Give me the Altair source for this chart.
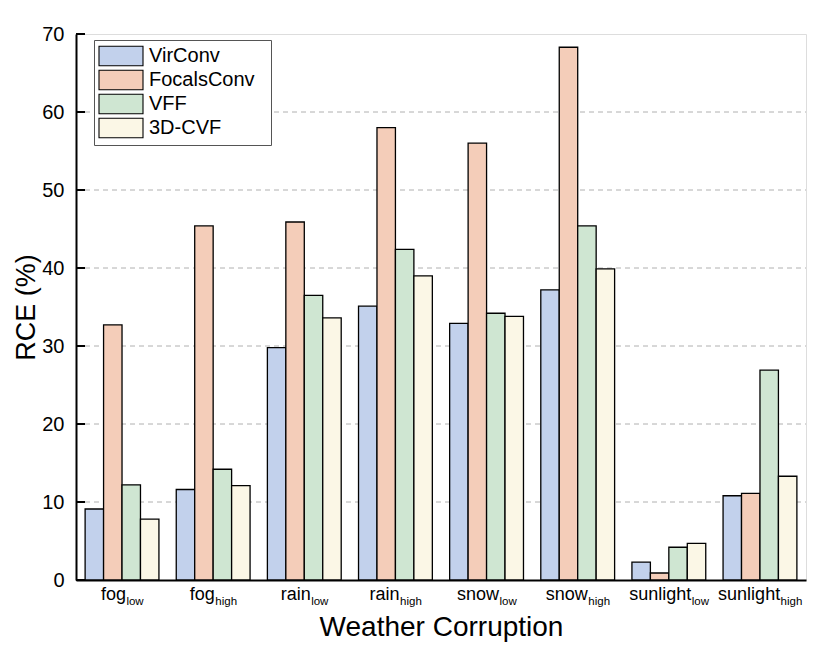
import altair as alt
import pandas as pd

FONT = "Liberation Sans"

categories = ["fog_low", "fog_high", "rain_low", "rain_high",
              "snow_low", "snow_high", "sunlight_low", "sunlight_high"]
label_main = ["fog", "fog", "rain", "rain", "snow", "snow", "sunlight", "sunlight"]
label_sub = ["low", "high", "low", "high", "low", "high", "low", "high"]

series = ["VirConv", "FocalsConv", "VFF", "3D-CVF"]
colors = ["#c2d1ec", "#f4cdb9", "#cfe6d2", "#fbf7e6"]

virconv = [9.1, 11.6, 29.8, 35.1, 32.9, 37.2, 2.3, 10.8]
focalsconv = [32.7, 45.4, 45.9, 58.0, 56.0, 68.3, 0.9, 11.1]
vff = [12.2, 14.2, 36.5, 42.4, 34.2, 45.4, 4.2, 26.9]
cvf3d = [7.8, 12.1, 33.6, 39.0, 33.8, 39.9, 4.7, 13.3]

y_ticks = [0, 10, 20, 30, 40, 50, 60, 70]
grid_values = [10, 20, 30, 40, 50, 60]

W, H = 730, 546

rows = []
for s, vals in zip(series, [virconv, focalsconv, vff, cvf3d]):
    for c, v in zip(categories, vals):
        rows.append({"category": c, "series": s, "value": v})
df = pd.DataFrame(rows)

xscale = alt.Scale(domain=categories, paddingInner=0.19, paddingOuter=0.1)

base_x = alt.X("category:N", scale=xscale,
               axis=alt.Axis(labels=False, ticks=False, domain=True,
                             domainColor="black", domainWidth=2,
                             title="Weather Corruption", titleFontSize=28,
                             titleFont=FONT, titleFontWeight="normal",
                             titleColor="black", titlePadding=33))

grid = alt.Chart(pd.DataFrame({"value": grid_values})).mark_rule(
    color="#b0b0b0", strokeWidth=1, strokeDash=[5, 4]
).encode(y=alt.Y("value:Q"), x=alt.value(0), x2=alt.value(W))

# legend swatch: 44 x 19.6 px rectangle (10 px per unit); the trailing
# move-to draws nothing and only widens the legend frame on the right
SWATCH = "M-1.1,-0.98H3.3V0.98H-1.1Z M15.3,0"

bars = alt.Chart(df).mark_bar(stroke="black", strokeWidth=1.3).encode(
    x=base_x,
    xOffset=alt.XOffset("series:N", scale=alt.Scale(domain=series, paddingInner=0, paddingOuter=0)),
    y=alt.Y("value:Q", scale=alt.Scale(domain=[0, 70], nice=False),
            axis=alt.Axis(values=y_ticks, ticks=False, grid=False,
                          domainColor="black", domainWidth=2,
                          labelFontSize=20, labelFont=FONT, labelColor="black",
                          labelPadding=12, title="RCE (%)", titleFontSize=27,
                          titleFont=FONT, titleFontWeight="normal",
                          titleColor="black", titlePadding=1)),
    fill=alt.Color("series:N", scale=alt.Scale(domain=series, range=colors),
                   title=None,
                   legend=alt.Legend(orient="none", legendX=18, legendY=6,
                                     symbolType=SWATCH, symbolSize=400,
                                     symbolStrokeColor="black", symbolStrokeWidth=1.1,
                                     symbolOpacity=1,
                                     labelFontSize=20, labelFont=FONT, labelColor="black",
                                     labelOffset=28,
                                     fillColor="white",
                                     strokeColor="#555555", padding=5, rowPadding=0,
                                     cornerRadius=0)),
)

ticks = alt.Chart(pd.DataFrame({"value": y_ticks})).mark_rule(
    color="black", strokeWidth=2
).encode(y=alt.Y("value:Q"), x=alt.value(0), x2=alt.value(9))

# approximate Arial / Liberation Sans advance widths (per 1000 em)
ARIAL = {'f': 278, 'o': 556, 'g': 556, 'r': 333, 'a': 556, 'i': 222, 'n': 556,
         's': 500, 'w': 722, 'u': 556, 'l': 222, 'h': 556, 't': 278}
MAIN_FS, SUB_FS = 18, 11.5


def tw(text, fs):
    return sum(ARIAL.get(ch, 556) for ch in text) * fs / 1000.0


lab_df = pd.DataFrame({"category": categories, "main": label_main, "sub": label_sub})
label_layers = []
for c, m, s in zip(categories, label_main, label_sub):
    mw, sw = tw(m, MAIN_FS), tw(s, SUB_FS)
    start = -(mw + sw) / 2
    sel = alt.Chart(lab_df).transform_filter(alt.datum.category == c)
    label_layers.append(sel.mark_text(align="left", baseline="alphabetic",
                                      fontSize=MAIN_FS, font=FONT, color="black",
                                      dx=start).encode(
        x=alt.X("category:N", scale=xscale), y=alt.value(H + 20), text="main:N"))
    label_layers.append(sel.mark_text(align="left", baseline="alphabetic",
                                      fontSize=SUB_FS, font=FONT, color="black",
                                      dx=start + mw + 0.5).encode(
        x=alt.X("category:N", scale=xscale), y=alt.value(H + 25), text="sub:N"))

chart = alt.layer(grid, bars, ticks, *label_layers).properties(
    width=W, height=H,
    padding={"left": 4, "top": 16, "right": 5, "bottom": 5},
).configure_view(stroke=None).configure(font=FONT)

chart.save("out.html", embed_options={"renderer": "svg", "actions": False})
